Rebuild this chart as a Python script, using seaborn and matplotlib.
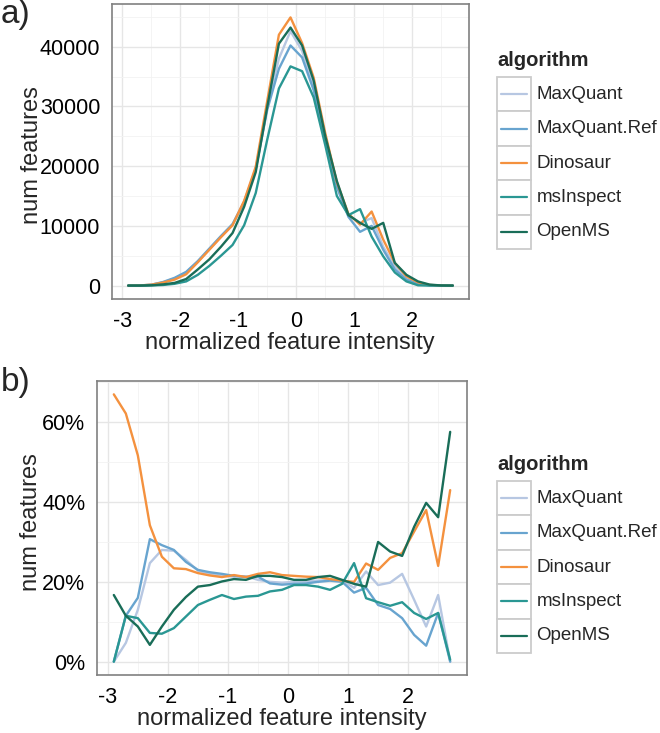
"""Feature intensity distributions per algorithm: counts (a) and share (b)."""
import matplotlib

matplotlib.use("Agg")

import matplotlib.pyplot as plt
import pandas as pd
import seaborn as sns
from matplotlib.lines import Line2D
from matplotlib.patches import Rectangle
from matplotlib.ticker import MultipleLocator, PercentFormatter

W, H = 660, 733

algorithms = ["MaxQuant", "MaxQuant.Ref", "Dinosaur", "msInspect", "OpenMS"]
colors = ["#b7c7e2", "#68a4cf", "#f4913e", "#2a9793", "#196d58"]

intensity = [-2.9, -2.7, -2.5, -2.3, -2.1, -1.9, -1.7, -1.5, -1.3, -1.1,
             -0.9, -0.7, -0.5, -0.3, -0.1, 0.1, 0.3, 0.5, 0.7, 0.9,
             1.1, 1.3, 1.5, 1.7, 1.9, 2.1, 2.3, 2.5, 2.7]

# panel a: number of features per intensity bin
maxquant_counts = [0, 10, 150, 550, 1200, 2200, 4000, 6100, 8200, 10200,
                   14000, 19500, 30000, 38000, 42600, 39300, 33200, 25000, 17000, 11800,
                   10500, 11300, 6500, 3200, 1200, 350, 50, 0, 0]
maxquant_ref_counts = [0, 10, 150, 600, 1300, 2300, 4100, 6200, 8300, 10300,
                       14000, 19500, 29500, 36300, 40200, 38200, 32700, 24500, 16500, 11500,
                       9000, 10000, 6000, 2700, 1000, 300, 50, 0, 0]
dinosaur_counts = [0, 30, 150, 500, 1000, 1900, 3900, 6000, 8100, 10100,
                   14200, 19900, 31000, 42000, 44900, 40600, 34800, 25500, 17300, 12000,
                   10200, 12400, 7700, 3800, 1550, 550, 100, 20, 0]
msinspect_counts = [0, 0, 30, 100, 300, 700, 1800, 3300, 5000, 6800,
                    10100, 15500, 24500, 33000, 36700, 35900, 31500, 23500, 15000, 11800,
                    12800, 8200, 4900, 2200, 700, 50, 0, 0, 0]
openms_counts = [0, 0, 50, 200, 450, 1100, 2700, 4400, 6500, 8800,
                 13200, 19000, 30000, 40500, 43200, 40200, 34300, 25000, 17500, 11800,
                 10500, 9500, 10500, 3800, 1800, 700, 170, 20, 0]

# panel b: share of features (percent)
maxquant_pct = [0, 4.7, 13, 24.7, 28, 27.8, 25.5, 22.8, 22, 21.5,
                21.3, 21.4, 20.5, 20, 19.8, 20, 20.2, 20.3, 20.5, 20.3,
                18.5, 22.6, 19.2, 19.8, 22, 15.5, 8.8, 16.7, 0]
maxquant_ref_pct = [0, 11.5, 16, 30.7, 29.2, 28, 25, 23, 22.4, 22,
                    21.5, 21.2, 21.3, 19.6, 19.3, 19.5, 19.6, 20, 20.3, 20,
                    17.3, 18.5, 14.2, 13.2, 10.9, 6.7, 4, 12.2, 0]
dinosaur_pct = [67, 62.2, 51.7, 34.2, 26.3, 23.4, 23.2, 22.2, 21.6, 21.2,
                21.7, 21.2, 22, 22.4, 21.7, 21.5, 21.3, 21.2, 20.7, 20.3,
                20, 24.6, 23, 26, 27.2, 32.6, 38, 24, 43]
msinspect_pct = [0, 11.5, 10.9, 7.2, 7, 8.4, 11.3, 14.2, 15.5, 16.7,
                 15.7, 16.3, 16.5, 17.6, 18, 19.2, 19.2, 18.8, 18, 19.5,
                 24.7, 15.9, 14.9, 14, 14.9, 12.2, 10.7, 12.2, 0.5]
openms_pct = [16.7, 11.5, 8.8, 4.2, 8.8, 13, 16.2, 18.8, 19.2, 20.1,
              20.7, 20.5, 21.5, 21.5, 21.2, 20.5, 20.5, 21.2, 21.5, 20.5,
              19.5, 18.8, 30, 27.6, 26.5, 33.8, 39.8, 36.2, 57.6]


def long_frame(series):
    parts = []
    for name, values in zip(algorithms, series):
        parts.append(pd.DataFrame({"intensity": intensity, "value": values, "algorithm": name}))
    return pd.concat(parts, ignore_index=True)


def fx(px):
    return px / W


def fy(py):
    return 1 - py / H


def style_axes(ax):
    ax.set_facecolor("white")
    for spine in ax.spines.values():
        spine.set_color("#808080")
        spine.set_linewidth(1.2)
    ax.grid(which="major", color="#e6e6e6", linewidth=1.0)
    ax.grid(which="minor", color="#f2f2f2", linewidth=0.6)
    ax.set_axisbelow(True)
    ax.xaxis.set_major_locator(MultipleLocator(1))
    ax.xaxis.set_minor_locator(MultipleLocator(0.5))
    ax.tick_params(which="major", direction="out", length=5, width=1.4,
                   color="#222222", labelsize=15.5, labelcolor="black", pad=3.5)
    ax.tick_params(which="minor", length=0)
    ax.set_xlabel("")
    ax.set_ylabel("")


def draw_legend(fig, title_y):
    key = 34.4
    left = 497
    fig.text(fx(left), fy(title_y), "algorithm", fontsize=14.5, fontweight="bold",
             ha="left", va="center")
    top = title_y + 17
    for i, (name, color) in enumerate(zip(algorithms, colors)):
        y0 = top + i * key
        fig.patches.append(Rectangle((fx(left), fy(y0 + key)), key / W, key / H,
                                     transform=fig.transFigure, fill=True, fc="white",
                                     ec="#cccccc", lw=1.3))
        fig.lines.append(Line2D([fx(left + 4), fx(left + key - 4)], [fy(y0 + key / 2)] * 2,
                                transform=fig.transFigure, color=color, lw=1.6))
        fig.text(fx(left + key + 5), fy(y0 + key / 2), name, fontsize=13.5,
                 ha="left", va="center")


sns.set_style("white")
plt.rcParams["font.family"] = ["Liberation Sans", "DejaVu Sans"]
plt.rcParams["axes.unicode_minus"] = False

palette = dict(zip(algorithms, colors))
counts_df = long_frame([maxquant_counts, maxquant_ref_counts, dinosaur_counts,
                        msinspect_counts, openms_counts])
pct_df = long_frame([maxquant_pct, maxquant_ref_pct, dinosaur_pct,
                     msinspect_pct, openms_pct])

fig = plt.figure(figsize=(W / 100, H / 100), dpi=100)
fig.patch.set_facecolor("white")

# panel a
ax_a = fig.add_axes([fx(112), fy(299), (469 - 112) / W, (299 - 4) / H])
sns.lineplot(data=counts_df, x="intensity", y="value", hue="algorithm",
             hue_order=algorithms, palette=palette, linewidth=1.7, legend=False, ax=ax_a)
style_axes(ax_a)
ax_a.yaxis.set_major_locator(MultipleLocator(10000))
ax_a.yaxis.set_minor_locator(MultipleLocator(5000))

# panel b
ax_b = fig.add_axes([fx(97), fy(675), (467 - 97) / W, (675 - 381) / H])
sns.lineplot(data=pct_df, x="intensity", y="value", hue="algorithm",
             hue_order=algorithms, palette=palette, linewidth=1.7, legend=False, ax=ax_b)
style_axes(ax_b)
ax_b.yaxis.set_major_locator(MultipleLocator(20))
ax_b.yaxis.set_minor_locator(MultipleLocator(10))
ax_b.yaxis.set_major_formatter(PercentFormatter(xmax=100, decimals=0))

# titles and panel letters
fig.text(fx(1), fy(14), "a)", fontsize=24, ha="left", va="center")
fig.text(fx(1), fy(382), "b)", fontsize=24, ha="left", va="center")
fig.text(fx(32), fy(155), "num features", fontsize=17, rotation=90, ha="center", va="center")
fig.text(fx(31), fy(522), "num features", fontsize=17, rotation=90, ha="center", va="center")
fig.text(fx(290), fy(343), "normalized feature intensity", fontsize=17, ha="center", va="center")
fig.text(fx(282), fy(719), "normalized feature intensity", fontsize=17, ha="center", va="center")

draw_legend(fig, 60)
draw_legend(fig, 464)

fig.savefig("out.png", dpi=100, facecolor="white")
